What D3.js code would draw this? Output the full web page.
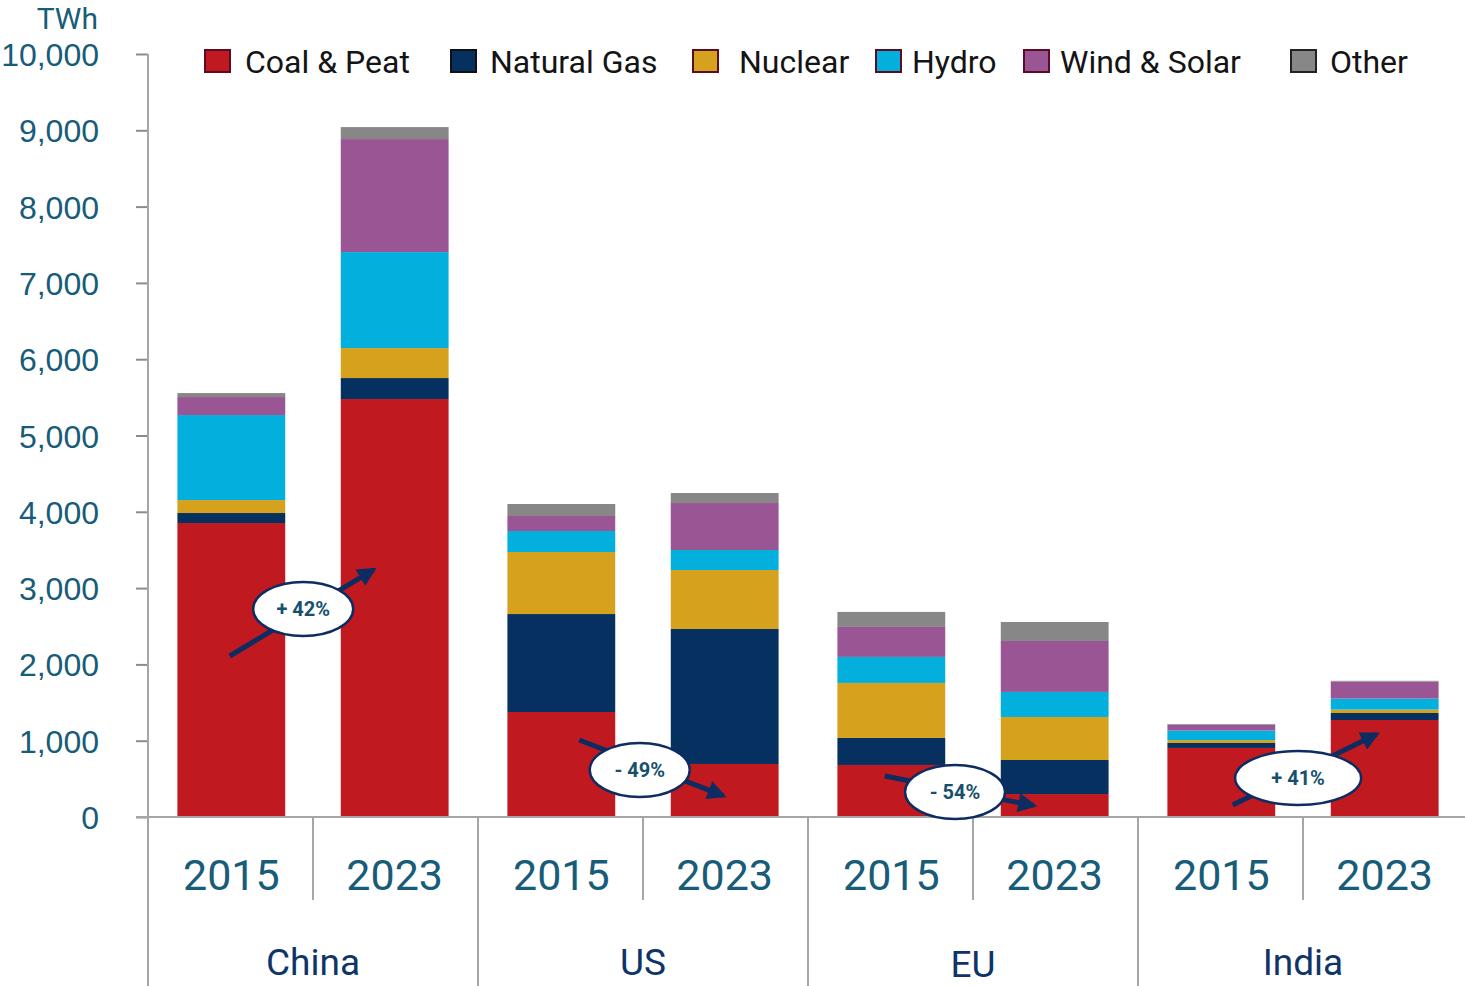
<!DOCTYPE html>
<meta charset="utf-8">
<style>
body { margin: 0; background: #fff; }
svg { display: block; font-family: Roboto, "Noto Sans", sans-serif; }
.axis--y path { display: none; }
.axis--y .tick line { stroke: #8c8c8c; stroke-width: 2; }
.axis--y .tick text { fill: #175c78; font-size: 32px; }
.sep { stroke: #a6a6a6; stroke-width: 2; }
.legend text { fill: #141414; font-size: 32px; }
.year { fill: #175c78; font-size: 43px; text-anchor: middle; }
.region { fill: #0f3468; font-size: 37px; text-anchor: middle; }
.note ellipse { fill: #fff; stroke: #0d2c62; stroke-width: 2.5; }
.note line { stroke: #0d2c62; stroke-width: 5; }
.note text { fill: #17506e; font-size: 20px; font-weight: bold; text-anchor: middle; }
</style>
<svg width="1465" height="986"></svg>
<script src="https://cdn.jsdelivr.net/npm/d3@7"></script>
<script>

// data, TWh, order: China 2015, China 2023, US 2015, US 2023, EU 2015, EU 2023, India 2015, India 2023
var regions = ["China", "US", "EU", "India"];
var years = ["2015", "2023"];
var series = ["Coal & Peat", "Natural Gas", "Nuclear", "Hydro", "Wind & Solar", "Other"];
var coal      = [3853, 5478, 1376, 695, 682, 301, 905, 1271];
var gas       = [131, 275, 1284, 1769, 354, 446, 65, 92];
var nuclear   = [170, 393, 813, 773, 721, 564, 38, 45];
var hydro     = [1114, 1258, 275, 262, 341, 328, 125, 144];
var windSolar = [236, 1481, 197, 616, 393, 668, 80, 223];
var other     = [52, 157, 157, 131, 197, 249, 5, 10];
var yTicks = [0, 1000, 2000, 3000, 4000, 5000, 6000, 7000, 8000, 9000, 10000];
var changes = ["+ 42%", "- 49%", "- 54%", "+ 41%"];

var colors = ["#c0191f", "#06305f", "#d6a21d", "#03afdd", "#9a5594", "#878787"];
var legendStroke = ["#5c0b22", "#111", "#5c0b22", "#5c0b22", "#5c0b22", "#222"];
var legendX = [204, 450, 692, 875, 1023, 1290];
var legendGap = [14, 13, 20, 10, 10, 13];

// annotation placement: x in year-band units inside the group, y in TWh
var notes = [
  {x0: 0.50, y0: 2110, x1: 1.38, y1: 3240, lx: 0.95, ly: 2726, rx: 50},
  {x0: 0.62, y0: 1009, x1: 1.50, y1: 280,  lx: 0.99, ly: 616,  rx: 50},
  {x0: 0.47, y0: 537,  x1: 1.38, y1: 150,  lx: 0.90, ly: 328,  rx: 50},
  {x0: 0.58, y0: 157,  x1: 1.46, y1: 1085, lx: 0.98, ly: 511,  rx: 63}
];

var svg = d3.select("svg");

var x0 = d3.scaleBand().domain(regions).range([148, 1468]);
var x1 = d3.scaleBand().domain(years).range([0, x0.bandwidth()])
    .paddingInner(0.34).paddingOuter(0.18);
var y = d3.scaleLinear().domain([0, 10000]).range([817, 54]);

var rows = [];
regions.forEach(function(r, i) {
  years.forEach(function(yr, j) {
    var k = i * 2 + j;
    rows.push({region: r, year: yr, "Coal & Peat": coal[k], "Natural Gas": gas[k], "Nuclear": nuclear[k],
      "Hydro": hydro[k], "Wind & Solar": windSolar[k], "Other": other[k]});
  });
});

var stack = d3.stack().keys(series)(rows);

svg.append("g")
  .selectAll("g")
  .data(stack)
  .enter().append("g")
    .attr("fill", function(d, i) { return colors[i]; })
  .selectAll("rect")
  .data(function(d) { return d; })
  .enter().append("rect")
    .attr("x", function(d) { return x0(d.data.region) + x1(d.data.year); })
    .attr("width", x1.bandwidth())
    .attr("y", function(d) { return y(d[1]); })
    .attr("height", function(d) { return y(d[0]) - y(d[1]); });

// y axis
svg.append("g")
    .attr("class", "axis axis--y")
    .attr("transform", "translate(148,0)")
    .call(d3.axisLeft(y).tickValues(yTicks).tickFormat(d3.format(",")).tickSize(12).tickPadding(37))
  .selectAll(".tick text")
    .attr("dy", "0.36em");

svg.append("text")
    .attr("x", 98).attr("y", 29)
    .attr("text-anchor", "end")
    .attr("fill", "#175c78")
    .style("font-size", "30px")
    .text("TWh");

svg.append("line").attr("class", "sep")
    .attr("x1", 148).attr("x2", 148).attr("y1", 54).attr("y2", 986);
svg.append("line").attr("class", "sep")
    .attr("x1", 136).attr("x2", 1465).attr("y1", y(0)).attr("y2", y(0));

// category axis
var grp = svg.append("g").selectAll("g")
  .data(regions)
  .enter().append("g")
    .attr("transform", function(d) { return "translate(" + x0(d) + ",0)"; });

grp.append("line").attr("class", "sep")
    .attr("x1", 0).attr("x2", 0).attr("y1", y(0)).attr("y2", 986);
grp.append("line").attr("class", "sep")
    .attr("x1", x0.bandwidth() / 2).attr("x2", x0.bandwidth() / 2).attr("y1", y(0)).attr("y2", 900);

grp.selectAll(".year")
  .data(years)
  .enter().append("text")
    .attr("class", "year")
    .attr("x", function(d) { return x1(d) + x1.bandwidth() / 2; })
    .attr("y", 890)
    .text(function(d) { return d; });

grp.append("text")
    .attr("class", "region")
    .attr("x", x0.bandwidth() / 2)
    .attr("y", function(d) { return d == "EU" ? 977 : 975; })
    .text(function(d) { return d; });

// legend
var leg = svg.append("g").attr("class", "legend")
  .selectAll("g")
  .data(series)
  .enter().append("g")
    .attr("transform", function(d, i) { return "translate(" + legendX[i] + ",49)"; });

leg.append("rect")
    .attr("x", 1).attr("y", 1)
    .attr("width", 25).attr("height", 22)
    .attr("fill", function(d, i) { return colors[i]; })
    .attr("stroke", function(d, i) { return legendStroke[i]; })
    .attr("stroke-width", 2);

leg.append("text")
    .attr("x", function(d, i) { return 27 + legendGap[i]; })
    .attr("y", 24)
    .text(function(d) { return d; });

// change annotations
svg.append("defs").append("marker")
    .attr("id", "head")
    .attr("viewBox", "0 0 10 10")
    .attr("refX", 8).attr("refY", 5)
    .attr("markerWidth", 4.6).attr("markerHeight", 3.8)
    .attr("orient", "auto")
  .append("path")
    .attr("d", "M0,0L10,5L0,10z")
    .attr("fill", "#0d2c62");

var half = x1.step();
var note = svg.append("g").selectAll("g")
  .data(notes)
  .enter().append("g")
    .attr("class", "note");

note.append("line")
    .attr("x1", function(d, i) { return x0(regions[i]) + d.x0 * half; })
    .attr("y1", function(d) { return y(d.y0); })
    .attr("x2", function(d, i) { return x0(regions[i]) + d.x1 * half; })
    .attr("y2", function(d) { return y(d.y1); })
    .attr("marker-end", "url(#head)");

note.append("ellipse")
    .attr("cx", function(d, i) { return x0(regions[i]) + d.lx * half; })
    .attr("cy", function(d) { return y(d.ly); })
    .attr("rx", function(d) { return d.rx; })
    .attr("ry", 27);

note.append("text")
    .attr("x", function(d, i) { return x0(regions[i]) + d.lx * half; })
    .attr("y", function(d) { return y(d.ly); })
    .attr("dy", "0.36em")
    .text(function(d, i) { return changes[i]; });

</script>
